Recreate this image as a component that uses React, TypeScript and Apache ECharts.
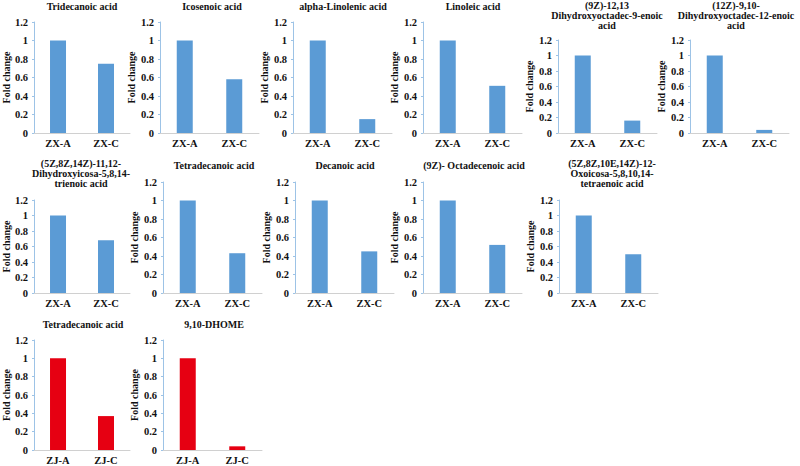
import React, { useEffect, useRef } from "react";
import * as echarts from "echarts";

const zxCategories = ["ZX-A", "ZX-C"];
const zjCategories = ["ZJ-A", "ZJ-C"];

const compoundNames = [
  "Tridecanoic acid",
  "Icosenoic acid",
  "alpha-Linolenic acid",
  "Linoleic acid",
  "(9Z)-12,13\nDihydroxyoctadec-9-enoic\nacid",
  "(12Z)-9,10-\nDihydroxyoctadec-12-enoic\nacid",
  "(5Z,8Z,14Z)-11,12-\nDihydroxyicosa-5,8,14-\ntrienoic acid",
  "Tetradecanoic acid",
  "Decanoic acid",
  "(9Z)- Octadecenoic acid",
  "(5Z,8Z,10E,14Z)-12-\nOxoicosa-5,8,10,14-\ntetraenoic acid",
  "Tetradecanoic acid",
  "9,10-DHOME",
];

const groupOfPanel = ["ZX", "ZX", "ZX", "ZX", "ZX", "ZX", "ZX", "ZX", "ZX", "ZX", "ZX", "ZJ", "ZJ"];

const valuesA = [1, 1, 1, 1, 1, 1, 1, 1, 1, 1, 1, 1, 1];
const valuesC = [0.75, 0.58, 0.15, 0.51, 0.16, 0.04, 0.68, 0.43, 0.45, 0.52, 0.5, 0.37, 0.04];

const yMin = 0;
const yMax = 1.2;
const yInterval = 0.2;

// layout (pixels): axis x, plot top, plot height, title top, title center x
const panelLayout = [
  { x: 31, top: 22, h: 111, tTop: 1, tCx: 82 },
  { x: 160, top: 22, h: 111, tTop: 1, tCx: 212 },
  { x: 293, top: 22, h: 111, tTop: 1, tCx: 343 },
  { x: 423, top: 22, h: 111, tTop: 1, tCx: 473 },
  { x: 558, top: 40, h: 93, tTop: 0, tCx: 607 },
  { x: 690, top: 40, h: 93, tTop: 0, tCx: 736 },
  { x: 31, top: 200, h: 93, tTop: 158, tCx: 81 },
  { x: 163, top: 182, h: 111, tTop: 160, tCx: 214 },
  { x: 295, top: 182, h: 111, tTop: 160, tCx: 345 },
  { x: 423, top: 182, h: 111, tTop: 160, tCx: 474 },
  { x: 559, top: 200, h: 93, tTop: 158, tCx: 612 },
  { x: 31, top: 340, h: 112, tTop: 319, tCx: 83 },
  { x: 163, top: 340, h: 112, tTop: 319, tCx: 214 },
];

const FONT = "'Times New Roman', 'Liberation Serif', serif";
const BLUE = "#5B9BD5";
const RED = "#E60012";

export default function App() {
  const ref = useRef<HTMLDivElement>(null);

  useEffect(() => {
    if (!ref.current) return;
    const chart = echarts.init(ref.current, undefined, { renderer: "svg" });
    const plotW = 99;

    const grids: any[] = [];
    const xAxes: any[] = [];
    const yAxes: any[] = [];
    const series: any[] = [];
    const titles: any[] = [];

    compoundNames.forEach((name, i) => {
      const L = panelLayout[i];
      const isZJ = groupOfPanel[i] === "ZJ";
      grids.push({ left: L.x, top: L.top, width: plotW, height: L.h, containLabel: false });
      titles.push({
        text: name,
        left: L.tCx,
        top: L.tTop,
        padding: 0,
        textAlign: "center",
        textStyle: {
          fontFamily: FONT,
          fontSize: 10,
          fontWeight: "bold",
          color: "#111",
          lineHeight: 10,
        },
      });
      xAxes.push({
        type: "category",
        gridIndex: i,
        data: isZJ ? zjCategories : zxCategories,
        axisLine: { show: true, lineStyle: { color: "#D0D0D0", width: 1 } },
        axisTick: { show: false },
        axisLabel: {
          fontFamily: FONT,
          fontSize: 10.5,
          fontWeight: "bold",
          color: "#111",
          margin: 5,
        },
      });
      yAxes.push({
        type: "value",
        gridIndex: i,
        min: yMin,
        max: yMax,
        interval: yInterval,
        name: "Fold change",
        nameLocation: "middle",
        nameGap: 19,
        nameTextStyle: {
          fontFamily: FONT,
          fontSize: 10,
          fontWeight: "bold",
          color: "#111",
        },
        splitLine: { show: false },
        axisLine: { show: true, lineStyle: { color: "#9DC3E6", width: 1 } },
        axisTick: { show: true, length: 2, lineStyle: { color: "#9DC3E6" } },
        axisLabel: {
          fontFamily: FONT,
          fontSize: 10.5,
          fontWeight: "bold",
          color: "#111",
          margin: 6,
        },
      });
      series.push({
        type: "bar",
        xAxisIndex: i,
        yAxisIndex: i,
        data: [valuesA[i], valuesC[i]],
        barWidth: 16,
        itemStyle: { color: isZJ ? RED : BLUE },
      });
    });

    chart.setOption({
      animation: false,
      backgroundColor: "#fff",
      title: titles,
      grid: grids,
      xAxis: xAxes,
      yAxis: yAxes,
      series,
    });

    return () => chart.dispose();
  }, []);

  return (
    <div
      ref={ref}
      style={{ position: "fixed", left: 0, top: 0, width: 800, height: 466 }}
    />
  );
}
